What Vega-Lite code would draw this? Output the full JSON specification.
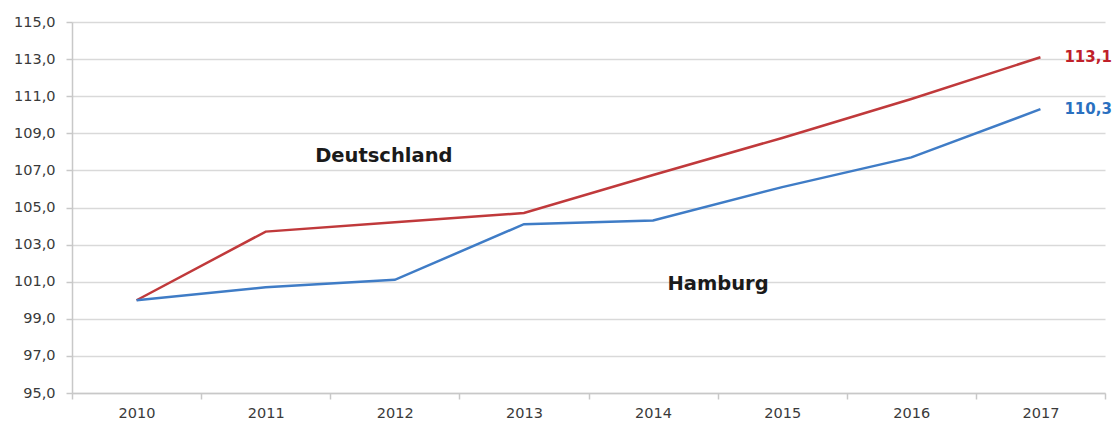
{
  "$schema": "https://vega.github.io/schema/vega-lite/v6.json",
  "width": 1033,
  "height": 371,
  "autosize": {"type": "none"},
  "padding": {"left": 72, "top": 22, "right": 14, "bottom": 43},
  "background": "white",
  "config": {"view": {"stroke": null}, "font": "DejaVu Sans"},
  "datasets": {
    "series": [
      {"year": "2010", "region": "Deutschland", "value": 100.0},
      {"year": "2011", "region": "Deutschland", "value": 103.7},
      {"year": "2012", "region": "Deutschland", "value": 104.2},
      {"year": "2013", "region": "Deutschland", "value": 104.7},
      {"year": "2014", "region": "Deutschland", "value": 106.75},
      {"year": "2015", "region": "Deutschland", "value": 108.75},
      {"year": "2016", "region": "Deutschland", "value": 110.85},
      {"year": "2017", "region": "Deutschland", "value": 113.1},
      {"year": "2010", "region": "Hamburg", "value": 100.0},
      {"year": "2011", "region": "Hamburg", "value": 100.7},
      {"year": "2012", "region": "Hamburg", "value": 101.1},
      {"year": "2013", "region": "Hamburg", "value": 104.1},
      {"year": "2014", "region": "Hamburg", "value": 104.3},
      {"year": "2015", "region": "Hamburg", "value": 106.1},
      {"year": "2016", "region": "Hamburg", "value": 107.7},
      {"year": "2017", "region": "Hamburg", "value": 110.3}
    ],
    "endlabels": [
      {"year": "2017", "region": "Deutschland", "value": 113.1, "label": "113,1"},
      {"year": "2017", "region": "Hamburg", "value": 110.3, "label": "110,3"}
    ],
    "names": [
      {"year": "2012", "region": "Deutschland", "value": 107.8, "label": "Deutschland"}
    ],
    "names2": [
      {"year": "2014", "region": "Hamburg", "value": 100.85, "label": "Hamburg"}
    ]
  },
  "encoding": {
    "x": {
      "field": "year", "type": "ordinal",
      "bandPosition": 0.5,
      "scale": {"type": "band", "domain": ["2010","2011","2012","2013","2014","2015","2016","2017"], "paddingInner": 0, "paddingOuter": 0},
      "axis": {
        "title": null, "labelAngle": 0, "tickBand": "extent",
        "domainColor": "#c8c8c8", "domainWidth": 1.5, "tickColor": "#c8c8c8", "tickWidth": 1.5, "tickSize": 6,
        "labelFontSize": 14.5, "labelColor": "#3a3a3a", "labelPadding": 7, "grid": false
      }
    },
    "y": {
      "field": "value", "type": "quantitative",
      "scale": {"domain": [95, 115], "nice": false, "zero": false},
      "axis": {
        "title": null, "values": [95,97,99,101,103,105,107,109,111,113,115],
        "labelExpr": "replace(format(datum.value, '.1f'), '.', ',')",
        "labelFontSize": 14.5, "labelColor": "#3a3a3a", "labelPadding": 11,
        "domainColor": "#c8c8c8", "domainWidth": 1.5, "tickColor": "#c8c8c8", "tickWidth": 1.5, "tickSize": 6,
        "grid": true, "gridColor": "#d9d9d9", "gridWidth": 1.5
      }
    },
    "color": {
      "field": "region", "type": "nominal",
      "scale": {"domain": ["Deutschland", "Hamburg"], "range": ["#c0393b", "#3f7cc6"]},
      "legend": null
    }
  },
  "layer": [
    {
      "data": {"name": "series"},
      "mark": {"type": "line", "strokeWidth": 2.5}
    },
    {
      "data": {"name": "endlabels"},
      "mark": {"type": "text", "align": "left", "baseline": "middle", "dx": 24, "fontSize": 15, "fontWeight": "bold"},
      "encoding": {
        "text": {"field": "label"},
        "color": {"field": "region", "type": "nominal", "scale": {"domain": ["Deutschland", "Hamburg"], "range": ["#c0202a", "#2a70c0"]}, "legend": null}
      }
    },
    {
      "data": {"name": "names"},
      "mark": {"type": "text", "align": "center", "baseline": "middle", "dx": -11, "fontSize": 19.5, "fontWeight": "bold"},
      "encoding": {"text": {"field": "label"}, "color": {"value": "#1a1a1a"}}
    },
    {
      "data": {"name": "names2"},
      "mark": {"type": "text", "align": "center", "baseline": "middle", "dx": 65, "fontSize": 19.5, "fontWeight": "bold"},
      "encoding": {"text": {"field": "label"}, "color": {"value": "#1a1a1a"}}
    }
  ],
  "resolve": {"scale": {"color": "independent"}}
}
